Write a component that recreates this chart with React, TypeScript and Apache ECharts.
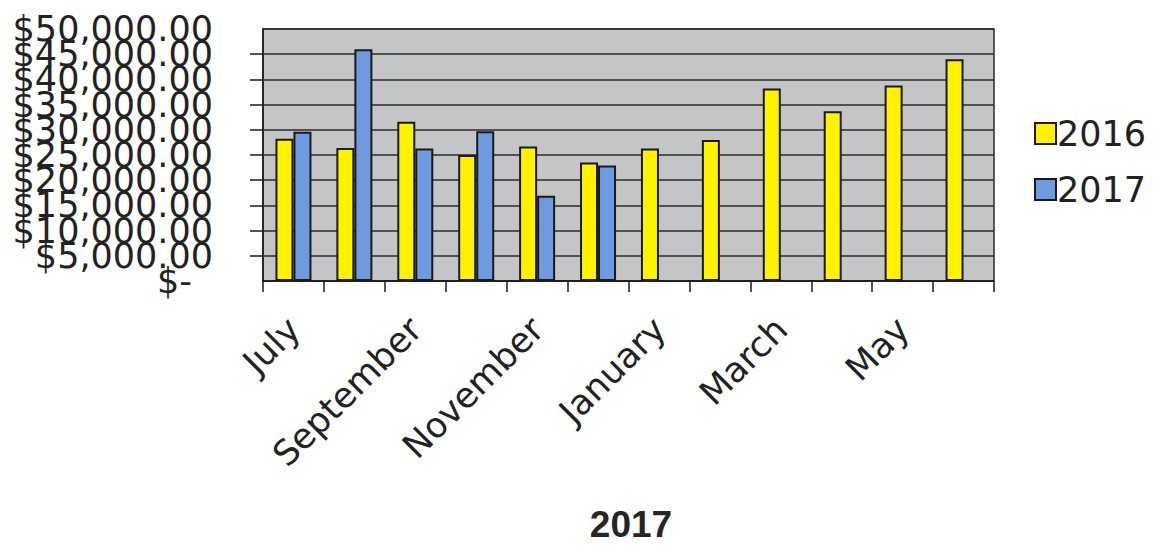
import React, { useEffect, useRef } from "react";
import * as echarts from "echarts";

const months = ["July", "August", "September", "October", "November", "December", "January", "February", "March", "April", "May", "June"];
const series2016 = [28200, 26400, 31600, 25000, 26700, 23500, 26300, 28000, 38200, 33700, 38800, 44000];
const series2017 = [29600, 46000, 26300, 29700, 16900, 22900, null, null, null, null, null, null];
const yTicks = { min: 0, max: 50000, interval: 5000 };
const titleText = "2017";

const money = (v: number) =>
  v === 0 ? "{z|$-}" : "$" + v.toLocaleString("en-US", { minimumFractionDigits: 2, maximumFractionDigits: 2 });

export default function App() {
  const ref = useRef<HTMLDivElement>(null);
  useEffect(() => {
    if (!ref.current) return;
    const chart = echarts.init(ref.current, null, { renderer: "svg" });
    const font = "DejaVu Sans";
    const labelBase = {
      margin: 50,
      hideOverlap: false,
      fontFamily: font,
      fontSize: 35,
      color: "#222",
      rich: { z: { fontFamily: font, fontSize: 35, color: "#222", padding: [0, 21, 0, 0] } },
    };
    chart.setOption({
      animation: false,
      backgroundColor: "#ffffff",
      title: {
        text: titleText,
        left: 626,
        textAlign: "center",
        top: 501,
        textStyle: { fontFamily: "Liberation Sans", fontWeight: "bold", fontSize: 37, lineHeight: 37, color: "#262626" },
      },
      legend: {
        orient: "vertical",
        left: 1029,
        top: 111,
        itemWidth: 21,
        itemHeight: 21,
        itemGap: 21,
        icon: "rect",
        textStyle: { fontFamily: font, fontSize: 35, color: "#222", lineHeight: 35, padding: [0, 0, 0, -4] },
        data: ["2016", "2017"],
      },
      grid: { left: 263, top: 29, width: 731, height: 252, show: true, backgroundColor: "#C3C5C7", borderColor: "#2a2a2a", borderWidth: 1.5 },
      xAxis: {
        type: "category",
        data: months,
        boundaryGap: true,
        axisLine: { lineStyle: { color: "#1a1a1a", width: 1.5 } },
        axisTick: { show: true, interval: 0, length: 11, lineStyle: { color: "#1a1a1a", width: 1.5 } },
        axisLabel: {
          show: true,
          interval: 1,
          rotate: 45,
          align: "right",
          verticalAlign: "top",
          margin: 18,
          padding: [0, 17, 0, 0],
          fontFamily: font,
          fontSize: 35,
          color: "#222",
        },
        splitLine: { show: false },
      },
      yAxis: [
        {
          type: "value",
          min: yTicks.min,
          max: yTicks.max,
          interval: yTicks.interval,
          axisLine: { show: true, lineStyle: { color: "#1a1a1a", width: 1.5 } },
          axisTick: { show: true, inside: false, length: 13, lineStyle: { color: "#1a1a1a", width: 1.5 } },
          splitLine: { show: true, lineStyle: { color: "#2a2a2a", width: 1.5 } },
          axisLabel: { ...labelBase, showMinLabel: false, showMaxLabel: false, formatter: money },
        },
        {
          type: "value",
          position: "left",
          min: yTicks.min,
          max: yTicks.max,
          interval: yTicks.interval,
          axisLine: { show: false },
          axisTick: { show: false },
          splitLine: { show: false },
          axisLabel: {
            ...labelBase,
            showMinLabel: true,
            showMaxLabel: true,
            formatter: (v: number) => (v === yTicks.min || v === yTicks.max ? money(v) : ""),
          },
        },
      ],
      series: [
        {
          name: "2016",
          type: "bar",
          data: series2016,
          barWidth: 18,
          barGap: "0%",
          itemStyle: { color: "#FFF200", borderColor: "#1a1a1a", borderWidth: 2 },
        },
        {
          name: "2017",
          type: "bar",
          data: series2017,
          barWidth: 18,
          barGap: "0%",
          itemStyle: { color: "#6E9BE0", borderColor: "#1a1a1a", borderWidth: 2 },
        },
      ],
    });
    return () => chart.dispose();
  }, []);
  return <div ref={ref} style={{ position: "fixed", left: 0, top: 0, width: 1157, height: 548 }} />;
}
